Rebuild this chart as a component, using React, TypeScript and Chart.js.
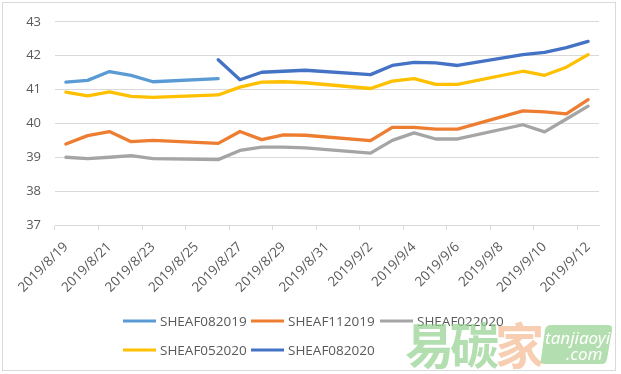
import React, { useEffect, useRef } from 'react';
import { Chart, registerables } from 'chart.js';

Chart.register(...registerables);

// ---- data ----
const categories = [
  '2019/8/19', '2019/8/20', '2019/8/21', '2019/8/22', '2019/8/23', '2019/8/24', '2019/8/25',
  '2019/8/26', '2019/8/27', '2019/8/28', '2019/8/29', '2019/8/30', '2019/8/31', '2019/9/1',
  '2019/9/2', '2019/9/3', '2019/9/4', '2019/9/5', '2019/9/6', '2019/9/7', '2019/9/8',
  '2019/9/9', '2019/9/10', '2019/9/11', '2019/9/12',
];

const N = null;
const sheaf082019 = [41.22, 41.27, 41.53, 41.42, 41.23, N, N, 41.32, N, N, N, N, N, N, N, N, N, N, N, N, N, N, N, N, N];
const sheaf112019 = [39.39, 39.64, 39.76, 39.46, 39.5, N, N, 39.41, 39.76, 39.52, 39.66, 39.65, N, N, 39.49, 39.88, 39.88, 39.83, 39.83, N, N, 40.37, 40.34, 40.28, 40.7];
const sheaf022020 = [39.0, 38.96, 39.0, 39.05, 38.96, N, N, 38.93, 39.2, 39.3, 39.3, 39.28, N, N, 39.12, 39.5, 39.72, 39.54, 39.54, N, N, 39.96, 39.75, 40.13, 40.51];
const sheaf052020 = [40.92, 40.81, 40.93, 40.8, 40.77, N, N, 40.84, 41.07, 41.22, 41.23, 41.2, N, N, 41.03, 41.25, 41.32, 41.15, 41.15, N, N, 41.54, 41.42, 41.66, 42.03];
const sheaf082020 = [N, N, N, N, N, N, N, 41.88, 41.29, 41.51, 41.54, 41.57, N, N, 41.44, 41.71, 41.8, 41.79, 41.71, N, N, 42.03, 42.1, 42.24, 42.42];

const seriesNames = ['SHEAF082019', 'SHEAF112019', 'SHEAF022020', 'SHEAF052020', 'SHEAF082020'];
const seriesValues = [sheaf082019, sheaf112019, sheaf022020, sheaf052020, sheaf082020];
const seriesColors = ['#5B9BD5', '#ED7D31', '#A5A5A5', '#FFC000', '#4472C4'];

const yMin = 37;
const yMax = 43;
const yStep = 1;

const watermarkChars = ['易', '碳', '家'];
const watermarkSite = ['tanjiaoyi', '.com'];

// ---- layout constants ----
const W = 621;
const H = 374;
const FONT = '"Open Sans", "Noto Sans", sans-serif';
const TEXT_COLOR = '#595959';
const GRID_COLOR = '#D9D9D9';
const legendSlots = [
  [123, 321], [251, 321], [380, 321],
  [123, 350], [251, 350],
];

const decorPlugin = {
  id: 'decor',
  afterDraw(chart: any) {
    const ctx = chart.ctx as CanvasRenderingContext2D;
    ctx.save();
    // chart border
    ctx.strokeStyle = GRID_COLOR;
    ctx.lineWidth = 1;
    ctx.strokeRect(2.5, 2.5, 613, 368);

    // legend
    ctx.font = `13.5px ${FONT}`;
    ctx.textBaseline = 'middle';
    ctx.textAlign = 'left';
    chart.data.datasets.forEach((ds: any, i: number) => {
      const [lx, ly] = legendSlots[i];
      ctx.strokeStyle = ds.borderColor;
      ctx.lineWidth = 3;
      ctx.beginPath();
      ctx.moveTo(lx, ly);
      ctx.lineTo(lx + 33, ly);
      ctx.stroke();
      ctx.fillStyle = TEXT_COLOR;
      ctx.fillText(ds.label, lx + 37, ly + 1);
    });

    // watermark (drawn over the legend, semi-transparent)
    ctx.textBaseline = 'alphabetic';
    ctx.font = 'bold 49px "Noto Sans CJK SC", sans-serif';
    const wmColors = ['rgba(150,210,145,0.72)', 'rgba(150,210,145,0.72)', 'rgba(244,185,145,0.7)'];
    let wx = 405;
    watermarkChars.forEach((c, i) => {
      ctx.fillStyle = wmColors[i];
      ctx.fillText(c, wx, 364);
      wx += 45;
    });
    // green tag
    ctx.fillStyle = 'rgba(160,214,155,0.8)';
    ctx.beginPath();
    const bx = 540, by = 325, bw = 73, bh = 39, r = 5;
    ctx.moveTo(bx + 6 + r, by);
    ctx.lineTo(bx + bw - r, by);
    ctx.quadraticCurveTo(bx + bw, by, bx + bw - 1, by + r);
    ctx.lineTo(bx + bw - 6, by + bh - r);
    ctx.quadraticCurveTo(bx + bw - 7, by + bh, bx + bw - 6 - r, by + bh);
    ctx.lineTo(bx + r, by + bh);
    ctx.quadraticCurveTo(bx, by + bh, bx + 1, by + bh - r);
    ctx.lineTo(bx + 5, by + r);
    ctx.quadraticCurveTo(bx + 6, by, bx + 6 + r, by);
    ctx.closePath();
    ctx.fill();
    ctx.fillStyle = '#FFFFFF';
    ctx.font = 'italic 17px "Noto Sans", sans-serif';
    ctx.fillText(watermarkSite[0], 545, 344);
    ctx.fillText(watermarkSite[1], 566, 360);
    ctx.restore();
  },
};

export default function App() {
  const ref = useRef<HTMLCanvasElement | null>(null);

  useEffect(() => {
    document.body.style.margin = '0';
    const canvas = ref.current;
    if (!canvas) return;
    const chart = new Chart(canvas, {
      type: 'line',
      data: {
        labels: categories,
        datasets: seriesNames.map((name, i) => ({
          label: name,
          data: seriesValues[i],
          borderColor: seriesColors[i],
          backgroundColor: seriesColors[i],
          borderWidth: 3.3,
          pointRadius: 0,
          pointHoverRadius: 0,
          spanGaps: true,
          tension: 0,
          fill: false,
          borderCapStyle: 'round',
          borderJoinStyle: 'round',
        })),
      },
      options: {
        responsive: false,
        animation: false,
        devicePixelRatio: 1,
        layout: { padding: { left: 0, right: 22, top: 20, bottom: 70 } },
        plugins: {
          legend: { display: false },
          tooltip: { enabled: false },
        },
        scales: {
          x: {
            type: 'category',
            offset: true,
            grid: {
              offset: true,
              drawOnChartArea: false,
              drawTicks: true,
              tickLength: 5,
              color: (c: any) => (c.index !== undefined && c.index % 2 === 0 ? GRID_COLOR : 'rgba(0,0,0,0)'),
              tickColor: (c: any) => (c.index !== undefined && c.index % 2 === 0 ? GRID_COLOR : 'rgba(0,0,0,0)'),
            },
            border: { display: true, color: GRID_COLOR, width: 1 },
            ticks: {
              autoSkip: false,
              maxRotation: 45,
              minRotation: 45,
              padding: 9,
              color: TEXT_COLOR,
              font: { family: FONT, size: 13.5 },
              callback: (_v: any, idx: number) => (idx % 2 === 0 ? categories[idx] : ''),
            },
            afterFit: (s: any) => { s.height = 79; },
          },
          y: {
            min: yMin,
            max: yMax,
            ticks: {
              stepSize: yStep,
              padding: 14,
              color: TEXT_COLOR,
              font: { family: FONT, size: 13 },
            },
            grid: { color: GRID_COLOR, drawTicks: false, lineWidth: 1 },
            border: { display: false },
            afterFit: (s: any) => { s.width = 55; },
          },
        },
      },
      plugins: [decorPlugin],
    } as any);
    return () => chart.destroy();
  }, []);

  return (
    <div style={{ width: W, height: H, position: 'relative', background: '#fff' }}>
      <canvas ref={ref} width={W} height={H} style={{ display: 'block', width: W, height: H }} />
    </div>
  );
}
